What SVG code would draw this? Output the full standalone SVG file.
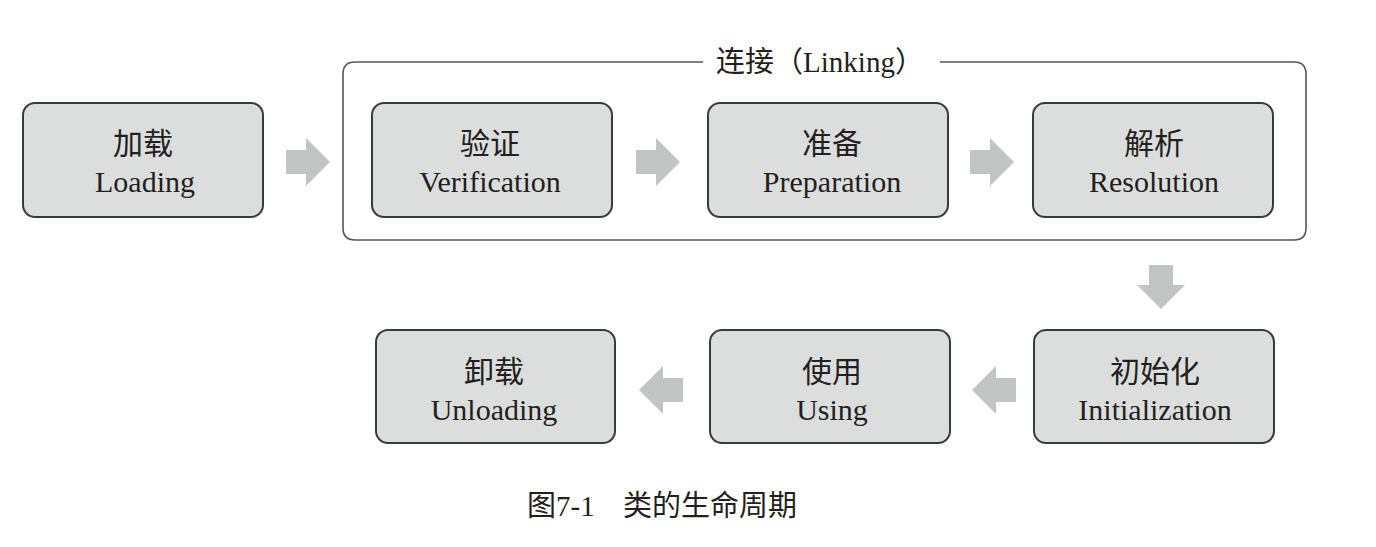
<svg xmlns="http://www.w3.org/2000/svg" width="1376" height="547" viewBox="0 0 1376 547">
<defs>
<style>
.box{fill:#dcdddd;stroke:#3a3a3a;stroke-width:2}
.t{font-family:"Liberation Serif","Noto Sans CJK SC",serif;font-size:30px;fill:#231f20;text-anchor:middle}
.arr{fill:#c2c3c3}
</style>
<path id="ar" d="M0,-12 H20 V-24 L44,0 L20,24 V12 H0 Z"/>
</defs>
<rect width="1376" height="547" fill="#fff"/>
<g id="linking">
<path d="M703,62 H355 Q343,62 343,74 V228 Q343,240 355,240 H1294 Q1306,240 1306,228 V74 Q1306,62 1294,62 H940" fill="none" stroke="#555" stroke-width="1.6"/>
<text class="t" x="820" y="72" style="font-size:29px">连接（Linking）</text>
</g>
<g id="loading"><rect class="box" x="23" y="103" width="240" height="114" rx="12"/><text class="t" x="143" y="154">加载</text><text class="t" x="145" y="192">Loading</text></g>
<g id="verification"><rect class="box" x="372" y="103" width="240" height="114" rx="12"/><text class="t" x="490" y="154">验证</text><text class="t" x="490" y="192">Verification</text></g>
<g id="preparation"><rect class="box" x="708" y="103" width="240" height="114" rx="12"/><text class="t" x="832" y="154">准备</text><text class="t" x="832" y="192">Preparation</text></g>
<g id="resolution"><rect class="box" x="1033" y="103" width="240" height="114" rx="12"/><text class="t" x="1154" y="154">解析</text><text class="t" x="1154" y="192">Resolution</text></g>
<g id="unloading"><rect class="box" x="376" y="330" width="239" height="113" rx="12"/><text class="t" x="494" y="382">卸载</text><text class="t" x="494" y="420">Unloading</text></g>
<g id="using"><rect class="box" x="710" y="330" width="240" height="113" rx="12"/><text class="t" x="832" y="382">使用</text><text class="t" x="832" y="420">Using</text></g>
<g id="initialization"><rect class="box" x="1034" y="330" width="240" height="113" rx="12"/><text class="t" x="1155" y="382">初始化</text><text class="t" x="1155" y="420">Initialization</text></g>
<g id="connectors" class="arr">
<use href="#ar" transform="translate(286,162)"/>
<use href="#ar" transform="translate(636,162)"/>
<use href="#ar" transform="translate(970,162)"/>
<use href="#ar" transform="translate(1161,265) rotate(90)"/>
<use href="#ar" transform="translate(1016,390) rotate(180)"/>
<use href="#ar" transform="translate(683,390) rotate(180)"/>
</g>
<text class="t" x="527" y="516" style="text-anchor:start;font-size:29px">图7-1</text>
<text class="t" x="623" y="516" style="text-anchor:start;font-size:29px">类的生命周期</text>
</svg>
